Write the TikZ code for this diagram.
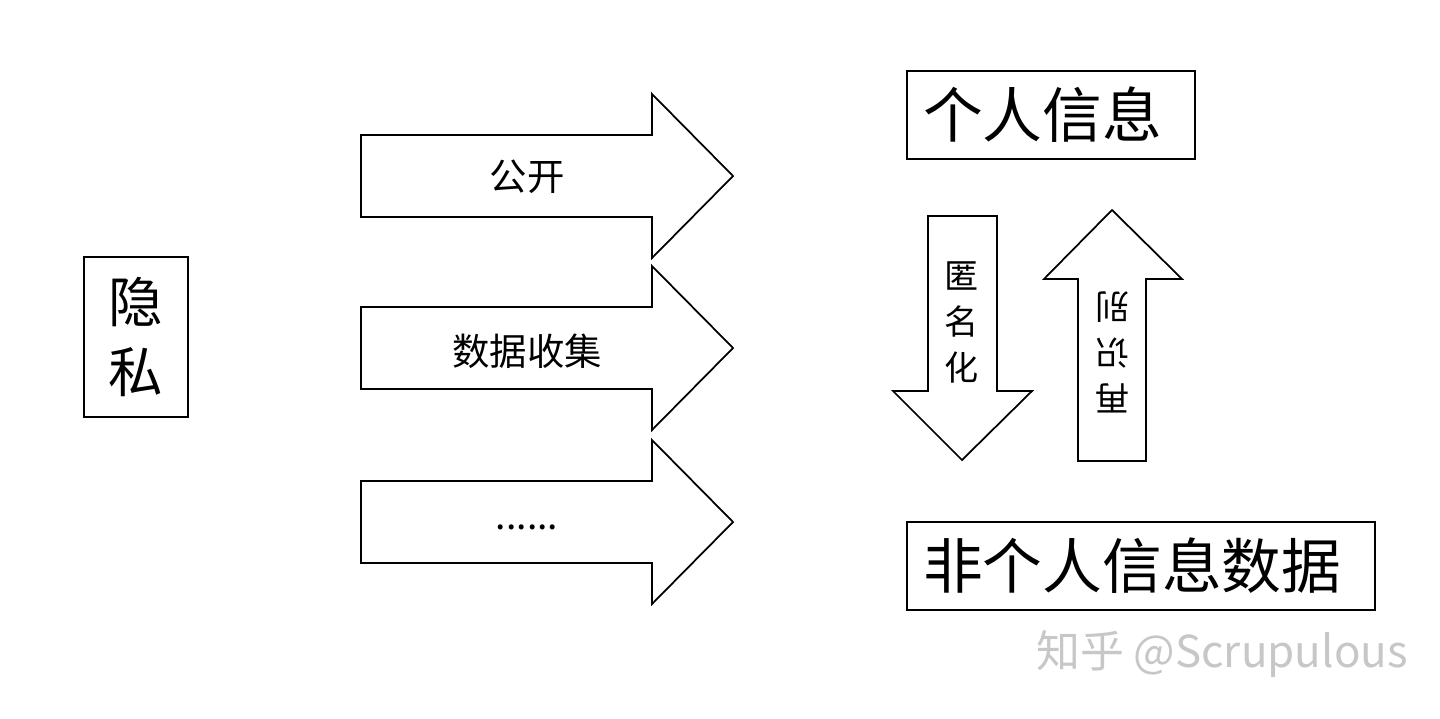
\documentclass[tikz,border=0pt]{standalone}
\usepackage{fontspec}
\setmainfont{Noto Sans CJK SC}
\usepackage{tikz}

\begin{document}
\begin{tikzpicture}[x=0.02cm,y=-0.02cm,
    box/.style={draw,line width=1pt,inner ysep=0pt,minimum height=1.76cm,align=left},
    bigtxt/.style={font=\fontsize{34}{34}\selectfont},
    midtxt/.style={font=\fontsize{21.3}{21.3}\selectfont},
    stacktxt/.style={align=center,font=\fontsize{19.4}{26.2}\selectfont},
    arr/.style={draw,line width=1pt,line join=miter,fill=white}]
  \useasboundingbox (0,0) rectangle (1440,718);
  % privacy box on the left
  \node (privacy) at (136,337)[draw,line width=1pt,minimum width=2.08cm,minimum height=3.2cm,align=center,
        font=\fontsize{31}{40}\selectfont]{隐\\私};
  % three arrows to the right
  \foreach \y/\name in {176/open, 348/collect, 522/more}{
    \draw [arr] (361,\y-41) -- (652,\y-41) -- (652,\y-82) -- (733,\y) -- (652,\y+82)
          -- (652,\y+41) -- (361,\y+41) -- cycle;
  }
  \node (open) at (527,177)[midtxt]{公开};
  \node (collect) at (527,351)[midtxt]{数据收集};
  \node (more) at (527,527)[midtxt]{......};
  % personal information and non personal data
  \node (personal) at (1051,115)[box,bigtxt,inner xsep=0.32cm,text width=5.12cm]{个人信息};
  \node (nonpersonal) at (1141,566)[box,bigtxt,inner xsep=0.32cm,text width=8.72cm]{非个人信息数据};
  % anonymise (down) and re-identify (up)
  \draw [arr] (928,216) -- (997,216) -- (997,391) -- (1032,391) -- (962,460) -- (893,391)
        -- (928,391) -- cycle;
  \draw [arr] (1078,461) -- (1146,461) -- (1146,279) -- (1182,279) -- (1112,210) -- (1044,279)
        -- (1078,279) -- cycle;
  \node (anon) at (962,322)[stacktxt]{匿\\名\\化};
  \node (reid) at (1112,352)[stacktxt,rotate=180]{再\\识\\别};
  % watermark
  \node (mark) at (1222,654)[text=black!22,font=\fontsize{25}{25}\selectfont]{知乎 @Scrupulous};
\end{tikzpicture}
\end{document}
